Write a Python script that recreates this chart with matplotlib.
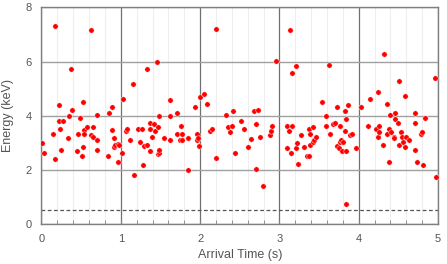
import matplotlib
matplotlib.use("Agg")
import matplotlib.pyplot as plt
import numpy as np

arrival_time = [
    0.011, 0.036, 0.141, 0.170, 0.170, 0.217, 0.225, 0.238, 0.242, 0.275,
    0.330, 0.351, 0.372, 0.389, 0.443, 0.456, 0.486, 0.507, 0.523, 0.523,
    0.532, 0.532, 0.578, 0.624, 0.628, 0.649, 0.654, 0.696, 0.696, 0.700,
    0.843, 0.851, 0.885, 0.889, 0.910, 0.910, 0.931, 0.965, 0.969, 0.977,
    1.015, 1.024, 1.062, 1.078, 1.112, 1.158, 1.166, 1.217, 1.238, 1.262,
    1.276, 1.293, 1.327, 1.330, 1.364, 1.364, 1.373, 1.390, 1.422, 1.427,
    1.453, 1.469, 1.473, 1.478, 1.482, 1.482, 1.541, 1.620, 1.624, 1.624,
    1.705, 1.709, 1.750, 1.763, 1.772, 1.776, 1.843, 1.851, 1.940, 1.965,
    1.965, 1.978, 1.982, 1.995, 2.045, 2.091, 2.125, 2.150, 2.197, 2.200,
    2.327, 2.348, 2.381, 2.398, 2.411, 2.436, 2.516, 2.554, 2.604, 2.642,
    2.680, 2.701, 2.705, 2.730, 2.751, 2.797, 2.886, 2.894, 2.903, 2.953,
    3.096, 3.100, 3.121, 3.138, 3.150, 3.155, 3.163, 3.209, 3.210, 3.222,
    3.239, 3.268, 3.314, 3.348, 3.373, 3.377, 3.390, 3.390, 3.420, 3.420,
    3.440, 3.457, 3.533, 3.592, 3.592, 3.630, 3.642, 3.672, 3.697, 3.726,
    3.726, 3.748, 3.760, 3.764, 3.781, 3.790, 3.802, 3.827, 3.831, 3.840,
    3.844, 3.844, 3.865, 3.894, 3.916, 3.962, 4.033, 4.121, 4.143, 4.218,
    4.247, 4.248, 4.260, 4.260, 4.302, 4.319, 4.353, 4.357, 4.378, 4.386,
    4.395, 4.411, 4.441, 4.449, 4.458, 4.462, 4.492, 4.512, 4.512, 4.530,
    4.550, 4.563, 4.584, 4.588, 4.600, 4.630, 4.706, 4.706, 4.710, 4.731,
    4.782, 4.794, 4.807, 4.836, 4.962, 4.971,
]
energy_kev = [
    2.98, 2.62, 3.34, 2.40, 7.33, 4.40, 3.81, 3.52, 2.75, 3.81,
    3.17, 3.99, 5.74, 4.22, 2.69, 3.34, 3.92, 2.51, 4.52, 2.86,
    3.46, 3.34, 3.57, 7.16, 3.28, 3.57, 3.22, 4.04, 2.75, 3.10,
    2.51, 4.10, 3.46, 4.32, 3.17, 2.86, 2.92, 2.28, 2.97, 2.91,
    2.64, 4.62, 3.45, 3.51, 3.10, 5.16, 1.82, 3.51, 3.04, 3.51,
    2.17, 2.87, 2.93, 5.74, 3.74, 3.51, 2.69, 3.22, 3.68, 3.45,
    5.99, 3.57, 2.58, 2.64, 3.98, 2.75, 3.17, 3.10, 4.57, 3.98,
    4.10, 3.34, 3.10, 3.62, 3.34, 3.10, 3.17, 2.00, 4.32, 3.34,
    3.10, 3.17, 2.87, 4.68, 4.80, 4.45, 3.45, 3.51, 7.22, 2.45,
    4.04, 3.57, 3.39, 3.63, 4.16, 2.62, 3.81, 3.51, 2.86, 3.15,
    4.16, 3.68, 2.04, 4.22, 3.22, 1.40, 3.28, 3.45, 3.63, 6.03,
    3.63, 2.81, 3.45, 7.16, 2.62, 3.63, 5.57, 2.81, 5.85, 2.98,
    2.22, 3.28, 2.86, 2.51, 2.51, 3.51, 3.34, 2.92, 3.57, 3.04,
    3.10, 3.22, 4.51, 3.98, 3.63, 5.86, 3.34, 3.68, 3.74, 4.34,
    2.88, 2.81, 3.62, 3.04, 3.09, 2.69, 3.04, 3.45, 4.16, 0.73,
    3.87, 2.69, 4.40, 3.28, 3.34, 2.81, 4.34, 3.63, 4.62, 3.51,
    3.23, 4.87, 3.63, 3.40, 2.92, 6.28, 4.45, 3.34, 3.51, 2.28,
    4.04, 3.39, 3.22, 3.17, 3.87, 4.10, 3.74, 5.28, 2.92, 3.40,
    3.22, 3.04, 2.86, 4.74, 3.22, 3.10, 3.74, 2.75, 4.10, 2.28,
    3.34, 3.40, 2.17, 3.93, 5.40, 1.75,
]
threshold_kev = 0.5
x_ticks = [0, 1, 2, 3, 4, 5]
y_ticks = [0, 2, 4, 6, 8]

plt.rcParams['font.family'] = ['Liberation Sans', 'DejaVu Sans']

fig = plt.figure(figsize=(4.47, 2.64), dpi=100)
ax = fig.add_axes([0.0928, 0.1515, 0.8872, 0.8201])

ax.set_xlim(0, 5)
ax.set_ylim(0, 8)
ax.set_xticks(x_ticks)
ax.set_yticks(y_ticks)
ax.set_xticks(np.arange(0, 5.01, 0.2), minor=True)

ax.grid(which='minor', axis='x', color='#eeeeee', linewidth=0.8)
ax.grid(which='major', axis='x', color='#707070', linewidth=0.9)
ax.grid(which='major', axis='y', color='#a0a0a0', linewidth=1.0)
ax.set_axisbelow(True)

for s in ax.spines.values():
    s.set_color('#808080')
    s.set_linewidth(1.0)

ax.tick_params(axis='both', which='major', labelsize=8, colors='#555555',
               direction='in', length=0, pad=7)
ax.tick_params(axis='x', which='minor', direction='in', length=3, color='#808080')
ax.tick_params(axis='x', which='major', direction='in', length=3, color='#808080')

ax.axhline(threshold_kev, color='#555555', linestyle=(0, (3, 2)), linewidth=0.9)

ax.scatter(arrival_time, energy_kev, s=15, c='#ff0000', edgecolors='white',
           linewidths=0.3, zorder=3)

ax.set_xlabel('Arrival Time (s)', fontsize=9, color='#555555', labelpad=4)
ax.set_ylabel('Energy (keV)', fontsize=9, color='#555555', labelpad=8)

fig.savefig('out.png', dpi=100)
